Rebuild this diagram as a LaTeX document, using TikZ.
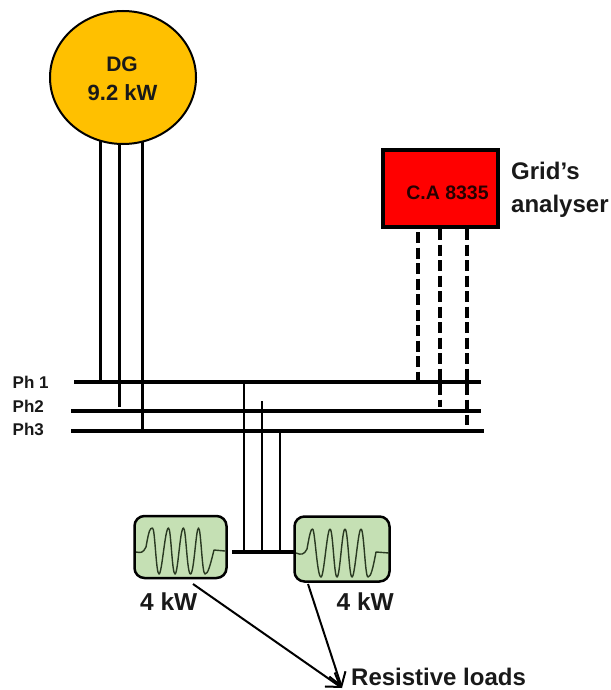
\documentclass[tikz,border=0pt]{standalone}
\usepackage{fontspec}
\setmainfont{Liberation Sans}
\usetikzlibrary{arrows.meta,shapes.geometric}
\definecolor{dgfill}{HTML}{FFC000}
\definecolor{loadfill}{HTML}{C5E0B4}
\definecolor{anfill}{HTML}{FF0000}
\definecolor{wavecol}{HTML}{2A3A22}
\newcommand{\fs}[1]{\fontsize{#1}{#1}\selectfont\bfseries}
\tikzset{
  x=1pt,y=-1pt,
  dgnode/.style={draw=black,line width=2pt,fill=dgfill,shape=ellipse,inner sep=0pt,minimum width=146pt,minimum height=133pt},
  anbox/.style={draw=black,line width=3.2pt,fill=anfill,inner sep=0pt,minimum width=115pt,minimum height=77pt},
  loadbox/.style={draw=black,line width=2.5pt,fill=loadfill,rounded corners=10pt,inner sep=0pt},
  lbl/.style={inner sep=0pt,anchor=base west,text=black!90},
  bus/.style={line width=#1,line cap=butt},
  feed/.style={line width=3pt},
  tap/.style={line width=2pt},
  probe/.style={line width=3.3pt,dash pattern=on 11pt off 4.5pt},
  wave/.style={line width=1.4pt,draw=wavecol,line join=round},
  pointer/.style={line width=2pt,-{Straight Barb[length=13pt,width=17pt,line width=2pt]}},
}
\begin{document}
\begin{tikzpicture}
\useasboundingbox (0,0) rectangle (610,690);
% buses
\coordinate (b1w) at (74,382); \coordinate (b1e) at (481,382);
\coordinate (b2w) at (71,411); \coordinate (b2e) at (481,411);
\coordinate (b3w) at (71,431); \coordinate (b3e) at (484,431);
\draw[bus=4.5pt] (b1w) -- (b1e);
\draw[bus=3.5pt] (b2w) -- (b2e);
\draw[bus=4.5pt] (b3w) -- (b3e);
% DG
\coordinate (d1t) at (100,136); \coordinate (d1b) at (100,382);
\coordinate (d2t) at (119.5,140); \coordinate (d2b) at (119.5,407);
\coordinate (d3t) at (142,140); \coordinate (d3b) at (142,431);
\draw[feed] (d1t) -- (d1b);
\draw[feed] (d2t) -- (d2b);
\draw[feed] (d3t) -- (d3b);
\node[dgnode] (dg) at (123,77.5) {};
\node[lbl,anchor=base] (dgt) at (122,72) {\fs{21}DG};
\node[lbl,anchor=base] (dgp) at (122.5,100.5) {\fs{22}9.2 kW};
% analyser
\node[anbox] (an) at (440.5,188.5) {};
\node[lbl,anchor=base,text=black!85!red] (ant) at (447.5,199) {\fs{19.5}C.A 8335};
\node[lbl] (g1) at (511,179) {\fs{24}Grid’s};
\node[lbl] (g2) at (511,212) {\fs{24}analyser};
\coordinate (p1t) at (418,232); \coordinate (p1b) at (418,382);
\coordinate (p2t) at (440,229); \coordinate (p2b) at (440,407);
\coordinate (p3t) at (467,229); \coordinate (p3b) at (467,425);
\draw[probe] (p1t) -- (p1b);
\draw[probe] (p2t) -- (p2b);
\draw[probe] (p3t) -- (p3b);
% phase labels
\node[lbl] (ph1) at (12.5,388) {\fs{17}Ph 1};
\node[lbl] (ph2) at (12.5,412) {\fs{17}Ph2};
\node[lbl] (ph3) at (12.5,435) {\fs{17}Ph3};
% taps
\coordinate (t1t) at (244,382); \coordinate (t1b) at (244,552);
\coordinate (t2t) at (262,401); \coordinate (t2b) at (262,552);
\coordinate (t3t) at (280,431); \coordinate (t3b) at (280,552);
\draw[tap] (t1t) -- (t1b);
\draw[tap] (t2t) -- (t2b);
\draw[tap] (t3t) -- (t3b);
\draw[bus=4.5pt] (232,552) -- (295,552);
% loads
\node[loadbox,minimum width=92pt,minimum height=62pt] (l1) at (180.5,547) {};
\node[loadbox,minimum width=95pt,minimum height=65pt] (l2) at (342,549) {};
\draw[wave] (136,552) .. controls (141,553) and (143,553) .. (146,547)
  .. controls (149,530) and (150,528) .. (152.5,528)
  .. controls (155,528) and (156,574) .. (159,574)
  .. controls (162,574) and (165,528) .. (168.5,528)
  .. controls (171,528) and (172,574) .. (175,574)
  .. controls (178,574) and (180,528) .. (183.5,528)
  .. controls (186,528) and (187,574) .. (190.5,574)
  .. controls (194,574) and (196,528) .. (198.5,528)
  .. controls (201,528) and (202,574) .. (205,574)
  .. controls (208,574) and (210,566) .. (214,550)
  -- (225,551);
\draw[wave] (296,553) .. controls (301,555) and (304,555) .. (307,549)
  .. controls (310,532) and (311,529) .. (312.5,529)
  .. controls (315,529) and (317,577) .. (321,577)
  .. controls (324,577) and (327,529) .. (330,529)
  .. controls (333,529) and (334,577) .. (337,577)
  .. controls (340,577) and (342,529) .. (345,529)
  .. controls (348,529) and (349,577) .. (352,577)
  .. controls (355,577) and (358,529) .. (361,529)
  .. controls (364,529) and (365,577) .. (368,577)
  .. controls (371,577) and (373,568) .. (376,552)
  -- (389,553);
\node[lbl] (k1) at (140,610) {\fs{24.5}4 kW};
\node[lbl] (k2) at (336.5,610) {\fs{24.5}4 kW};
\node[lbl] (res) at (351,685) {\fs{24}Resistive loads};
\coordinate (tipa) at (342,688);
\coordinate (a1) at (193,584);
\coordinate (a2) at (308,584);
\draw[pointer] (a1) -- (tipa);
\draw[pointer] (a2) -- (tipa);
\end{tikzpicture}
\end{document}
